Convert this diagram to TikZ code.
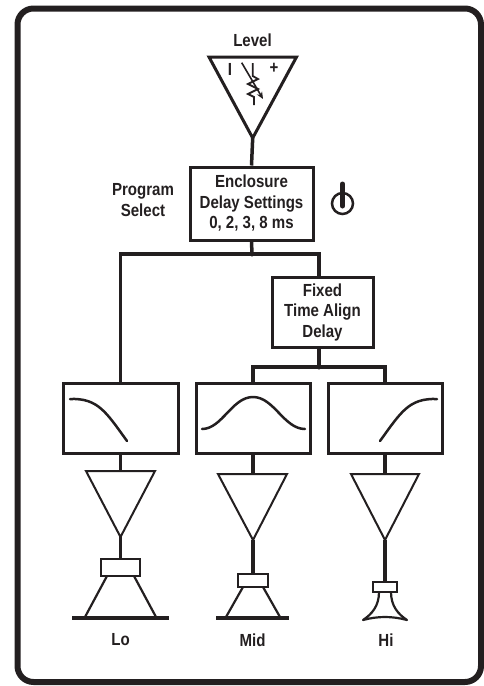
\documentclass[tikz,border=0pt]{standalone}
\usepackage{fontspec}
\setmainfont{Liberation Sans}[FakeStretch=0.86]
\usetikzlibrary{arrows.meta}
\definecolor{ink}{HTML}{231F20}
\tikzset{
  lbl/.style={text=ink, font=\bfseries\fontsize{17.5}{20.5}\selectfont, align=center, inner sep=0pt},
  boxnode/.style={lbl, draw=ink, line width=3pt, inner sep=0pt},
  wire/.style={draw=ink, line width=3.5pt},
  thin/.style={draw=ink, line width=2pt, line join=miter},
  filt/.style={draw=ink, line width=2.5pt, line cap=round},
  base/.style={draw=ink, line width=4.5pt},
  dot/.style={circle, fill=ink, inner sep=0pt, minimum size=5pt}
}
\begin{document}
\begin{tikzpicture}[x=1pt,y=-1pt]
\useasboundingbox (0,0) rectangle (484,686);
% outer frame
\draw[draw=ink, line width=6pt, rounded corners=16pt] (17.5,8.5) rectangle (481,682);

% Level
\node[lbl] (level) at (252.5,40) {Level};
\coordinate (lvTL) at (209,57);
\coordinate (lvTR) at (296.5,57);
\coordinate (lvA) at (252.7,138);
\draw[draw=ink, line width=3pt, line join=miter] (lvTL) -- (lvTR) -- (lvA) -- cycle;
\node[lbl] (minus) at (230,69) {I};
\node[lbl] (plus) at (274,68) {+};
% potentiometer
\coordinate (r1) at (252.7,63);
\coordinate (r2) at (252.7,76);
\coordinate (r3) at (254,105);
\draw[draw=ink, line width=1.8pt, line join=miter] (r1) -- (r2) -- (258,79) -- (248,84) -- (258,89) -- (248,94) -- (254,97) -- (r3);
\draw[draw=ink, line width=1.6pt, -{Stealth[length=7pt,width=6pt]}] (241.7,62.7) -- (263,99);

% Enclosure delay
\node[boxnode, minimum width=123pt, minimum height=73pt] (enc) at (251.5,203.5) {Enclosure\\Delay Settings\\0, 2, 3, 8 ms};
\node[lbl] (prog) at (143,200) {Program\\Select};
% power icon
\coordinate (pw) at (342.5,203.5);
\draw[draw=ink, line width=2.5pt] (pw) circle (10.5pt);
\draw[draw=ink, line width=5pt, line cap=round] (342.5,184) -- (342.5,206);

\draw[wire] (lvA) -- (enc.north);

% junction 1
\coordinate (j1) at (252,254);
\node[dot] (j1dot) at (j1) {};
\draw[wire] (enc.south) -- (j1);

% Fixed delay
\node[boxnode, minimum width=101pt, minimum height=70pt] (fixed) at (322.5,312) {Fixed\\Time Align\\Delay};
\coordinate (fxT) at (319,277);
\coordinate (fxB) at (319,347);
\coordinate (j2) at (319,367);
\node[dot] (j2dot) at (j2) {};

% filters
\node[boxnode, minimum width=115pt, minimum height=70pt] (flo) at (120.5,418) {};
\node[boxnode, minimum width=114pt, minimum height=70pt] (fmid) at (253,418) {};
\node[boxnode, minimum width=114pt, minimum height=70pt] (fhi) at (385,418) {};

\draw[wire] (flo.north) |- (j1) -| (fxT);
\draw[wire] (fxB) -- (j2);
\draw[wire] (fmid.north) |- (j2) -| (fhi.north);

\draw[filt] (70,399) .. controls (98,398) and (106,412) .. (127,441);
\draw[filt] (202,429) .. controls (222,429) and (232,397) .. (253,397) .. controls (274,397) and (284,429) .. (305,429);
\draw[filt] (380,441) .. controls (401,412) and (409,398) .. (437,399);

% amplifiers
\coordinate (aloT) at (120.5,471);
\coordinate (aloA) at (120.5,537);
\coordinate (amidT) at (253,474);
\coordinate (amidA) at (253,540);
\coordinate (ahiT) at (385,474);
\coordinate (ahiA) at (385,540);
\draw[thin] (86,471) -- (155,471) -- (aloA) -- cycle;
\draw[thin] (218,474) -- (287,474) -- (amidA) -- cycle;
\draw[thin] (351,474) -- (419,474) -- (ahiA) -- cycle;
\draw[wire] (flo.south) -- (aloT);
\draw[wire] (fmid.south) -- (amidT);
\draw[wire] (fhi.south) -- (ahiT);

% Lo speaker
\coordinate (mloT) at (120.5,559);
\draw[thin, line width=2.5pt] (101,559) rectangle (140,576);
\draw[thin, line width=2.2pt] (107,576) -- (85,617);
\draw[thin, line width=2.2pt] (134,576) -- (156,617);
\draw[base] (72,618) -- (169,618);
\draw[wire] (aloA) -- (mloT);

% Mid speaker
\coordinate (mmidT) at (253,574);
\draw[thin, line width=2.5pt] (238,574) rectangle (268,587);
\draw[thin, line width=2.2pt] (243,587) -- (226,617);
\draw[thin, line width=2.2pt] (263,587) -- (280,617);
\draw[base] (216,618) -- (289,618);
\draw[wire] (amidA) -- (mmidT);

% Hi tweeter
\coordinate (mhiT) at (385,582);
\draw[thin, line width=2.5pt] (373,582) rectangle (397,592);
\draw[draw=ink, line width=2.2pt, line join=round] (379,592) .. controls (379,606) and (372,614) .. (363,620)
  .. controls (378,616) and (392,616) .. (407,620)
  .. controls (398,614) and (391,606) .. (391,592);
\draw[wire] (ahiA) -- (mhiT);

% labels
\node[lbl] (lo) at (120.5,640) {Lo};
\node[lbl] (mid) at (252.5,640) {Mid};
\node[lbl] (hi) at (386,640) {Hi};
\end{tikzpicture}
\end{document}
